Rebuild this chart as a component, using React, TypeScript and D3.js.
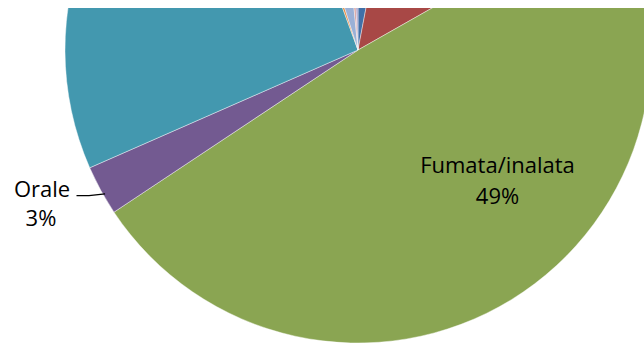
import React from "react";
import * as d3 from "d3";

const categories = [
  "Iniettata",
  "Sniffata",
  "Fumata/inalata",
  "Orale",
  "Non nota",
  "Rettale",
  "Altra",
  "Sublinguale",
  "Transdermica",
];
const values = [3.0, 13.8, 48.9, 2.75, 26.0, 0.7, 3.4, 0.75, 0.75];
const percentLabels = ["3%", "14%", "49%", "3%", "26%", "1%", "3%", "1%", "1%"];
const colors = [
  "#4070A8",
  "#A84846",
  "#8AA552",
  "#735A91",
  "#4398AF",
  "#E68A3C",
  "#9AB0D6",
  "#D49A98",
  "#A9A0C8",
];

const W = 644;
const H = 345;
const cx = 358;
const cy = 50;
const R = 293;
const FONT = "'Open Sans', Lato, sans-serif";

export default function App() {
  const pie = d3
    .pie<number>()
    .sort(null)
    .value((d) => d)
    .startAngle(0)
    .endAngle(2 * Math.PI);
  const arcs = pie(values);
  const arcGen = d3.arc<d3.PieArcDatum<number>>().innerRadius(0).outerRadius(R);

  // Orale leader line anchor on the arc
  const orale = arcs[3];
  const aAng = orale.startAngle + (orale.endAngle - orale.startAngle) * 0.4;
  const ax = cx + Math.sin(aAng) * (R - 2);
  const ay = cy - Math.cos(aAng) * (R - 2);
  const oraleX = cx - 316;
  const oraleY = cy + 146.7;

  const fumX = cx + 139.5;
  const fumY = cy + 123.3;

  return (
    <div
      style={{
        position: "fixed",
        left: 0,
        top: 0,
        width: W,
        height: H,
        overflow: "hidden",
        background: "#fff",
      }}
    >
      <svg width={W} height={H} style={{ display: "block" }}>
        <defs>
          <clipPath id="clip">
            <rect x={0} y={8} width={W} height={H - 8} />
          </clipPath>
        </defs>
        <g clipPath="url(#clip)">
          <g transform={`translate(${cx},${cy})`}>
            {arcs.map((a, i) => (
              <path
                key={categories[i]}
                d={arcGen(a) || ""}
                fill={colors[i]}
                stroke="#ffffff"
                strokeWidth={0.6}
                strokeOpacity={0.7}
              />
            ))}
          </g>
          <polyline
            points={`${oraleX + 34.5},${oraleY - 1} ${oraleX + 47},${oraleY - 1} ${ax},${ay}`}
            fill="none"
            stroke="#000"
            strokeWidth={1.2}
          />
          <g fontFamily={FONT} fontSize={22} fill="#000" textAnchor="middle">
            <text x={oraleX} y={oraleY}>
              {categories[3]}
            </text>
            <text x={oraleX - 1} y={oraleY + 29}>
              {percentLabels[3]}
            </text>
            <text x={fumX} y={fumY}>
              {categories[2]}
            </text>
            <text x={fumX} y={fumY + 31}>
              {percentLabels[2]}
            </text>
          </g>
        </g>
      </svg>
    </div>
  );
}
